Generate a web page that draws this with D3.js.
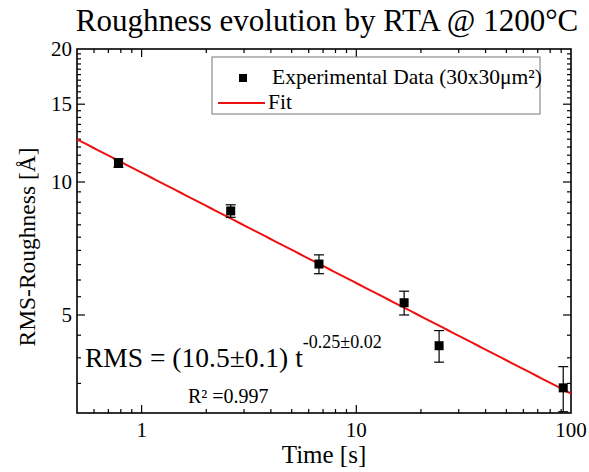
<!DOCTYPE html>
<html><head><meta charset="utf-8">
<script src="https://cdn.jsdelivr.net/npm/d3@7"></script>
<style>body{margin:0;background:#fff}svg{display:block}</style>
</head><body>
<svg id="c" width="589" height="472" font-family="'Liberation Serif', 'DejaVu Serif', 'Times New Roman', serif"></svg>
<script>
const times = [0.78, 2.6, 6.7, 16.7, 24.3, 92];
const rms = [11.04, 8.6, 6.52, 5.33, 4.26, 3.42];
const errs = [0.25, 0.28, 0.32, 0.33, 0.35, 0.4];
const fitA = 10.5, fitB = -0.25;
const xTicks = [1, 10, 100];
const yTicks = [5, 10, 15, 20];
const xMinor = [0.6,0.7,0.8,0.9,2,3,4,5,6,7,8,9,20,30,40,50,60,70,80,90];
const yMinor = [3.5,4,4.5,5.5,6,6.5,7,7.5,8,8.5,9,9.5,10.5,11,11.5,12,12.5,13,13.5,14,14.5,15.5,16,16.5,17,17.5,18,18.5,19,19.5];

const svg = d3.select("#c");
const L=77, R=571, T=49, B=413;
const x = d3.scaleLog().domain([0.5,100]).range([L,R]);
const y = d3.scaleLog().domain([3,20]).range([B,T]);

const g = svg.append("g").attr("stroke","#000").attr("stroke-width",1.2);
function tickSet(vals, len, axis){
  vals.forEach(v=>{
    if(axis==="x"){
      g.append("line").attr("x1",x(v)).attr("x2",x(v)).attr("y1",B).attr("y2",B-len);
      g.append("line").attr("x1",x(v)).attr("x2",x(v)).attr("y1",T).attr("y2",T+len);
    } else {
      g.append("line").attr("y1",y(v)).attr("y2",y(v)).attr("x1",L).attr("x2",L+len);
      g.append("line").attr("y1",y(v)).attr("y2",y(v)).attr("x1",R).attr("x2",R-len);
    }
  });
}
tickSet(xTicks.filter(v=>v<100),8,"x");
tickSet(xMinor,4,"x");
tickSet(yTicks.filter(v=>v<20),8,"y");
tickSet(yMinor,4,"y");

svg.append("rect").attr("x",L).attr("y",T).attr("width",R-L).attr("height",B-T)
  .attr("fill","none").attr("stroke","#000").attr("stroke-width",1.6);

svg.selectAll(".xl").data(xTicks).enter().append("text")
  .attr("x",d=>x(d)).attr("y",B+24).attr("text-anchor","middle").attr("font-size",21).text(d=>d);
svg.selectAll(".yl").data(yTicks).enter().append("text")
  .attr("x",L-5).attr("y",d=>y(d)+7).attr("text-anchor","end").attr("font-size",21).text(d=>d);

svg.append("text").attr("x",(L+R)/2).attr("y",463).attr("text-anchor","middle").attr("font-size",25).text("Time [s]");
svg.append("text").attr("transform","translate(35,247) rotate(-90)").attr("text-anchor","middle").attr("font-size",23.5).text("RMS-Roughness [Å]");

svg.append("text").attr("x",327).attr("y",31).attr("text-anchor","middle").attr("font-size",31).text("Roughness evolution by RTA @ 1200°C");

const fitData = d3.range(0,101).map(i=>{const t=0.5*Math.pow(200,i/100);return [t, fitA*Math.pow(t,fitB)];});
svg.append("path").datum(fitData)
  .attr("d", d3.line().x(d=>x(d[0])).y(d=>y(d[1])))
  .attr("fill","none").attr("stroke","#ee1111").attr("stroke-width",2);

const pts = times.map((t,i)=>({t, v:rms[i], e:errs[i]}));
const eg = svg.append("g").attr("stroke","#000").attr("stroke-width",1.2);
pts.forEach(p=>{
  const cx=x(p.t);
  eg.append("line").attr("x1",cx).attr("x2",cx).attr("y1",y(p.v-p.e)).attr("y2",y(p.v+p.e));
  eg.append("line").attr("x1",cx-5).attr("x2",cx+5).attr("y1",y(p.v-p.e)).attr("y2",y(p.v-p.e));
  eg.append("line").attr("x1",cx-5).attr("x2",cx+5).attr("y1",y(p.v+p.e)).attr("y2",y(p.v+p.e));
});
svg.selectAll(".pt").data(pts).enter().append("rect")
  .attr("x",d=>x(d.t)-4.5).attr("y",d=>y(d.v)-4.5).attr("width",9).attr("height",9).attr("fill","#000");

svg.append("rect").attr("x",212).attr("y",57).attr("width",328).attr("height",57)
  .attr("fill","#fff").attr("stroke","#777").attr("stroke-width",1);
svg.append("rect").attr("x",239).attr("y",74).attr("width",8).attr("height",8).attr("fill","#000");
svg.append("line").attr("x1",218).attr("x2",265).attr("y1",103).attr("y2",103).attr("stroke","#ee1111").attr("stroke-width",2);
svg.append("text").attr("x",272).attr("y",84).attr("font-size",21.5).text("Experimental Data (30x30μm²)");
svg.append("text").attr("x",268).attr("y",109).attr("font-size",21.5).text("Fit");

const ann = svg.append("text").attr("x",85).attr("y",367).attr("font-size",27.5);
ann.append("tspan").text("RMS = (10.5±0.1) t");
ann.append("tspan").attr("dy",-19).attr("font-size",18).text("-0.25±0.02");
svg.append("text").attr("x",188).attr("y",403).attr("font-size",20).text("R² =0.997");
</script>
</body></html>
